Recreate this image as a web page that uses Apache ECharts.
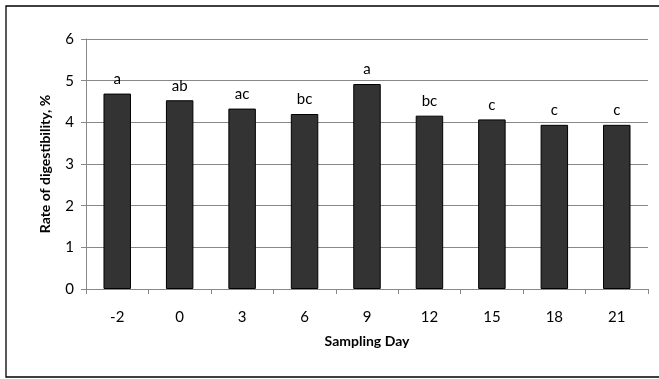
<!DOCTYPE html>
<html>
<head>
<meta charset="utf-8">
<script src="https://cdn.jsdelivr.net/npm/echarts@6/dist/echarts.min.js"></script>
<style>
html,body{margin:0;padding:0;background:#fff;}
#chart{width:659px;height:379px;}
</style>
</head>
<body>
<div id="chart"></div>
<script>
const categories = ['-2', '0', '3', '6', '9', '12', '15', '18', '21'];
const values = [4.69, 4.53, 4.33, 4.20, 4.92, 4.16, 4.07, 3.94, 3.94];
const letters = ['a', 'ab', 'ac', 'bc', 'a', 'bc', 'c', 'c', 'c'];
const yTicks = [0, 1, 2, 3, 4, 5, 6];

const FONT = 'Lato, "Open Sans", sans-serif';
const chart = echarts.init(document.getElementById('chart'), null, {renderer: 'canvas'});
chart.setOption({
  animation: false,
  backgroundColor: '#fff',
  graphic: [{
    type: 'rect',
    shape: {x: 6, y: 6, width: 660, height: 371},
    style: {fill: 'none', stroke: '#000', lineWidth: 1.3},
    silent: true
  }],
  grid: {left: 86, top: 39, width: 562, height: 250, containLabel: false},
  xAxis: {
    type: 'category',
    data: categories,
    name: 'Sampling Day',
    nameLocation: 'middle',
    nameGap: 45,
    nameTextStyle: {fontFamily: FONT, fontWeight: 'bold', fontSize: 14, color: '#000'},
    axisLine: {lineStyle: {color: '#888', width: 1}},
    axisTick: {show: true, alignWithLabel: false, length: 5, lineStyle: {color: '#888'}},
    axisLabel: {fontFamily: FONT, fontSize: 15, color: '#000', margin: 21}
  },
  yAxis: {
    type: 'value',
    min: yTicks[0],
    max: yTicks[yTicks.length - 1],
    interval: 1,
    name: 'Rate of digestibility, %',
    nameLocation: 'middle',
    nameGap: 34,
    nameTextStyle: {fontFamily: FONT, fontWeight: 'bold', fontSize: 14, color: '#000'},
    axisLine: {show: true, lineStyle: {color: '#888', width: 1}},
    axisTick: {show: true, length: 5, lineStyle: {color: '#888'}},
    axisLabel: {fontFamily: FONT, fontSize: 15, color: '#000', margin: 12},
    splitLine: {show: true, lineStyle: {color: '#888', width: 1}}
  },
  series: [{
    type: 'bar',
    data: values,
    barWidth: '44%',
    itemStyle: {color: '#333333', borderColor: '#000', borderWidth: 1},
    label: {
      show: true,
      position: 'top',
      distance: 7,
      fontFamily: FONT,
      fontSize: 15,
      color: '#000',
      formatter: p => letters[p.dataIndex]
    }
  }]
});
</script>
</body>
</html>
